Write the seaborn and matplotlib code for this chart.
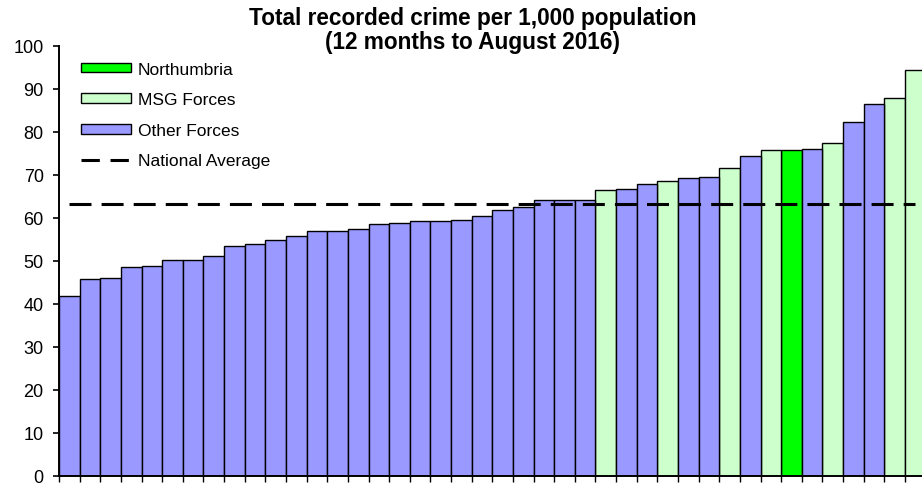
import pandas as pd
import matplotlib.pyplot as plt
import seaborn as sns
from matplotlib.patches import Patch
from matplotlib.lines import Line2D

# crime per 1,000 population, sorted ascending (one bar per force)
rates = [41.9, 45.8, 46.1, 48.5, 48.8, 50.3, 50.3, 51.2, 53.4, 54.0,
         55.0, 55.7, 56.9, 56.9, 57.5, 58.5, 58.9, 59.3, 59.3, 59.6,
         60.5, 61.9, 62.6, 64.3, 64.3, 64.3, 66.4, 66.8, 67.8, 68.5,
         69.2, 69.6, 71.7, 74.4, 75.7, 75.7, 76.1, 77.5, 82.4, 86.4,
         87.8, 94.4]
groups = ['Other Forces'] * 26 + [
    'MSG Forces', 'Other Forces', 'Other Forces', 'MSG Forces',
    'Other Forces', 'Other Forces', 'MSG Forces', 'Other Forces',
    'MSG Forces', 'Northumbria', 'Other Forces', 'MSG Forces',
    'Other Forces', 'Other Forces', 'MSG Forces', 'MSG Forces']
national_average = 63.2

group_order = ['Northumbria', 'MSG Forces', 'Other Forces']
group_colors = {'Northumbria': '#00FF00', 'MSG Forces': '#CCFFCC',
                'Other Forces': '#9999FF'}

df = pd.DataFrame({'force': [str(i) for i in range(len(rates))],
                   'rate': rates, 'group': groups})

sns.set_style('white')
plt.rcParams['font.family'] = ['Liberation Sans', 'DejaVu Sans']
plt.rcParams['text.color'] = 'black'
plt.rcParams['xtick.color'] = 'black'
plt.rcParams['ytick.color'] = 'black'

W, H = 922, 485
fig = plt.figure(figsize=(W / 100, H / 100), dpi=100)
ax = fig.add_axes([59 / W, 8 / H, 866.6 / W, 430 / H])

sns.barplot(data=df, x='force', y='rate', hue='group', hue_order=group_order,
            palette=group_colors, saturation=1, dodge=False, width=1.0,
            edgecolor='black', linewidth=1.0, legend=False, ax=ax, zorder=2)

sns.lineplot(x=list(range(len(rates))), y=[national_average] * len(rates),
             color='black', linewidth=2.2, dashes=(7.2, 3.3), ax=ax,
             zorder=3)

ax.set_xlim(-0.5, len(rates) - 0.5)
ax.set_ylim(0, 100)
ax.set_yticks(range(0, 101, 10))
ax.set_xticks([i - 0.5 for i in range(len(rates) + 1)])
ax.set_xticklabels([])
ax.set_xlabel('')
ax.set_ylabel('')
ax.tick_params(axis='y', labelsize=13, length=4.5, width=1.2, pad=6.5, left=True)
ax.tick_params(axis='x', length=4, width=1.0, bottom=True)
for side in ['top', 'right']:
    ax.spines[side].set_visible(False)
for side in ['left', 'bottom']:
    ax.spines[side].set_linewidth(1.4)
    ax.spines[side].set_color('black')

handles = [Patch(facecolor=group_colors[g], edgecolor='black', linewidth=1.0)
           for g in group_order]
handles.append(Line2D([], [], color='black', linewidth=2.2, dashes=(6, 3.5)))
ax.legend(handles, group_order + ['National Average'], loc='upper left',
          bbox_to_anchor=(6 / 866.6, 1.0), frameon=False, fontsize=12.5,
          handlelength=2.9, handleheight=0.5, labelspacing=0.9,
          handletextpad=0.4, borderaxespad=0.5)

fig.text(0.513, 0.986, 'Total recorded crime per 1,000 population\n(12 months to August 2016)',
         ha='center', va='top', fontsize=16.3, fontweight='bold',
         linespacing=1.05)

fig.savefig('out.png', dpi=100)
